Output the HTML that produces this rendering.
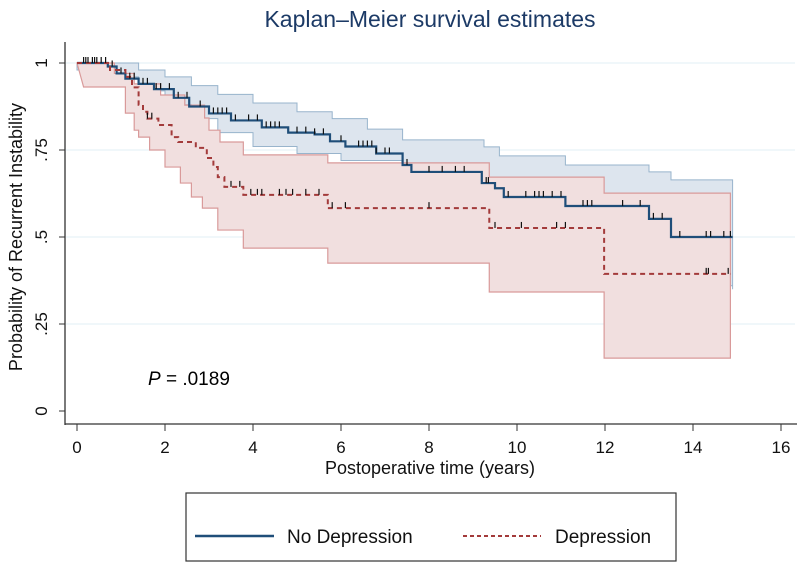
<!DOCTYPE html>
<html><head><meta charset="utf-8"><style>
body{margin:0;background:#fff;}
svg{display:block;font-family:"Liberation Sans",Arial,sans-serif;}
</style></head><body>
<svg id="chart" width="800" height="567" viewBox="0 0 800 567">
<text x="430" y="27" text-anchor="middle" font-size="23" fill="#1c3a66">Kaplan–Meier survival estimates</text>
<g id="grid"></g><g id="bands"></g><g id="lines"></g><g id="axes"></g>
<text x="148" y="385" font-size="19" fill="#000"><tspan font-style="italic">P</tspan> = .0189</text>
<text transform="translate(22,237) rotate(-90)" text-anchor="middle" font-size="18" fill="#111">Probability of Recurrent Instability</text>
<text x="430" y="474" text-anchor="middle" font-size="18" fill="#111">Postoperative time (years)</text>
<g>
<rect x="186" y="493" width="490" height="68" fill="#fff" stroke="#333" stroke-width="1.2"/>
<line x1="195" y1="536" x2="274" y2="536" stroke="#1f4e79" stroke-width="2.5"/>
<text x="287" y="543" font-size="19" fill="#111">No Depression</text>
<line x1="463" y1="536" x2="541" y2="536" stroke="#a33a3a" stroke-width="2" stroke-dasharray="4,3"/>
<text x="555" y="543" font-size="19" fill="#111">Depression</text>
</g>
</svg>
<script>
const xTicks=[0,2,4,6,8,10,12,14,16];
const yTicks=[0,0.25,0.5,0.75,1];
const yTickLabels=["0",".25",".5",".75","1"];
// No depression
const ndT=[0,0.7,0.9,1.1,1.4,1.75,2.2,2.55,3.0,3.5,4.2,4.8,5.4,5.75,6.1,6.8,7.4,7.6,9.2,9.5,9.7,11.1,13.0,13.5,14.9];
const ndS=[1,0.99,0.97,0.955,0.94,0.925,0.9,0.875,0.855,0.835,0.815,0.8,0.795,0.775,0.76,0.74,0.707,0.687,0.655,0.64,0.615,0.589,0.552,0.5,0.5];
const ndUT=[0,0.9,1.4,2.0,2.6,3.2,4.0,5.0,5.8,6.6,7.4,9.25,9.6,11.1,13.0,13.5,14.9];
const ndU=[1,1,0.98,0.96,0.935,0.91,0.885,0.86,0.84,0.81,0.779,0.759,0.733,0.707,0.687,0.664,0.635];
const ndLT=[0,0.9,1.4,2.0,2.6,3.2,4.0,5.0,6.0,7.4,9.2,9.7,11.1,13.0,13.5,14.9];
const ndL=[0.98,0.96,0.92,0.88,0.84,0.8,0.76,0.74,0.72,0.66,0.58,0.55,0.52,0.47,0.36,0.35];
const ndCens=[0.15,0.25,0.35,0.45,0.55,0.65,0.8,1.0,1.2,1.3,1.5,1.6,1.8,1.9,2.1,2.3,2.5,2.8,3.1,3.2,3.3,3.4,3.6,3.9,4.1,4.3,4.4,4.5,4.6,5.0,5.2,5.4,5.6,6.0,6.4,6.5,6.6,6.7,6.8,7.0,7.1,7.5,8.0,8.3,8.6,8.8,9.3,9.35,9.8,10.2,10.4,10.5,10.6,10.8,11.0,11.5,11.6,11.7,12.4,12.8,13.1,13.3,13.7,14.3,14.4,14.7,14.85];
// Depression
const dT=[0,0.75,1.1,1.25,1.4,1.5,1.6,1.85,2.15,2.3,2.7,2.95,3.1,3.2,3.35,3.78,5.7,9.37,11.98,14.85];
const dS=[1,0.98,0.96,0.93,0.88,0.86,0.84,0.822,0.787,0.773,0.756,0.727,0.701,0.672,0.644,0.621,0.583,0.526,0.394,0.394];
const dUT=[0,0.85,1.3,1.9,2.45,2.9,3.0,3.25,3.78,5.7,9.37,11.98,14.85];
const dU=[1,0.97,0.94,0.908,0.879,0.842,0.807,0.773,0.736,0.713,0.672,0.626,0.626];
const dLT=[0.15,1.0,1.1,1.3,1.4,1.65,2.0,2.35,2.6,2.85,3.2,3.78,5.7,9.37,11.98,14.85];
const dL=[0.931,0.931,0.856,0.807,0.787,0.75,0.701,0.655,0.615,0.583,0.52,0.468,0.425,0.342,0.152,0.152];
const dCens=[0.2,0.4,1.6,1.7,3.5,3.7,3.95,4.1,4.2,4.6,4.75,4.9,5.2,5.5,5.8,6.1,8.0,9.5,10.1,10.9,11.1,14.3,14.35,14.8];

const X=t=>77+t*44, Y=s=>411-s*348;
const NS='http://www.w3.org/2000/svg';
function mk(p,tag,a){const e=document.createElementNS(NS,tag);for(const k in a)e.setAttribute(k,a[k]);document.getElementById(p).appendChild(e);return e;}
function stepPts(T,S){let p=[];for(let i=0;i<T.length;i++){if(i>0)p.push([X(T[i]),Y(S[i-1])]);p.push([X(T[i]),Y(S[i])]);}return p;}
function sAt(T,S,t){let v=S[0];for(let i=0;i<T.length;i++){if(T[i]<=t)v=S[i];}return v;}
function band(UT,U,LT,L){const up=stepPts(UT,U),lo=stepPts(LT,L).reverse();return up.concat(lo).map(p=>p.join(',')).join(' ');}
yTicks.forEach((v,i)=>{
 if(v>0){const g=mk('grid','line',{x1:66,x2:795,y1:Y(v),y2:Y(v),stroke:'#e8f2f6','stroke-width':1.2});
 
 }
 const t=mk('axes','line',{x1:59,x2:65,y1:Y(v),y2:Y(v),stroke:'#333'});
 
 
 const l=mk('axes','text',{transform:`translate(47,${Y(v)}) rotate(-90)`,'text-anchor':'middle','font-size':17,fill:'#111'});
 
 
 l.textContent=yTickLabels[i];
});
const ya=mk('axes','line',{x1:65,x2:65,y1:42,y2:425,stroke:'#333','stroke-width':1.3});


const xa=mk('axes','line',{x1:65,x2:797,y1:424,y2:424,stroke:'#333','stroke-width':1.3});


xTicks.forEach(v=>{
 const t=mk('axes','line',{x1:X(v),x2:X(v),y1:424,y2:431,stroke:'#333'});
 
 
 const l=mk('axes','text',{x:X(v),y:453,'text-anchor':'middle','font-size':17,fill:'#111'});
 
 
 l.textContent=v;
});
const b1=mk('bands','polygon',{points:band(ndUT,ndU,ndLT,ndL),fill:'#dde5ee',stroke:'#98b4cc','stroke-width':1});


const b2=mk('bands','polygon',{points:band(dUT,dU,dLT,dL),fill:'#f1dfdf',stroke:'#d99a9a','stroke-width':1.2});


const l1=mk('lines','polyline',{points:stepPts(ndT,ndS).map(p=>p.join(',')).join(' '),fill:'none',stroke:'#1f4e79','stroke-width':2.2});


const l2=mk('lines','polyline',{points:stepPts(dT,dS).map(p=>p.join(',')).join(' '),fill:'none',stroke:'#a33a3a','stroke-width':2,'stroke-dasharray':'5,4'});


ndCens.forEach(t=>{const y=Y(sAt(ndT,ndS,t));
 const c=mk('lines','line',{x1:X(t),x2:X(t),y1:y,y2:y-6,stroke:'#111','stroke-width':1.2});
 
 });
dCens.forEach(t=>{const y=Y(sAt(dT,dS,t));
 const c=mk('lines','line',{x1:X(t),x2:X(t),y1:y,y2:y-6,stroke:'#111','stroke-width':1.2});
 
 });
</script>
</body></html>
